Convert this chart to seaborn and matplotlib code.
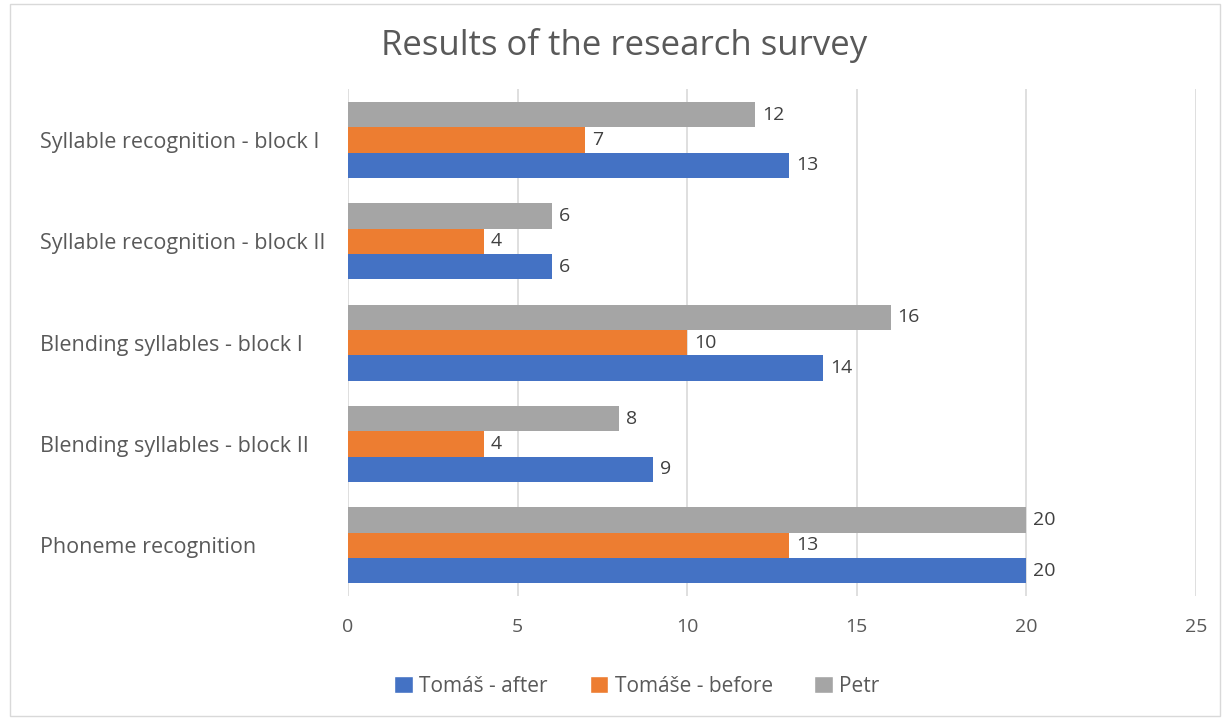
import pandas as pd
import matplotlib.pyplot as plt
import seaborn as sns
from matplotlib.patches import Patch, Rectangle

# chart data
categories = ["Syllable recognition - block I", "Syllable recognition - block II",
              "Blending syllables - block I", "Blending syllables - block II",
              "Phoneme recognition"]
tomas_after = [13, 6, 14, 9, 20]
tomase_before = [7, 4, 10, 4, 13]
petr = [12, 6, 16, 8, 20]
series_names = ["Tomáš - after", "Tomáše - before", "Petr"]
colors = {"Tomáš - after": "#4472C4", "Tomáše - before": "#ED7D31", "Petr": "#A5A5A5"}

df = pd.DataFrame({
    "category": categories * 3,
    "series": [series_names[0]] * 5 + [series_names[1]] * 5 + [series_names[2]] * 5,
    "value": tomas_after + tomase_before + petr,
})

sns.set_style("white")
plt.rcParams["font.family"] = ["Open Sans", "DejaVu Sans"]
text_color = "#595959"

fig = plt.figure(figsize=(12.24, 7.2), dpi=100)
ax = fig.add_axes([0.2843, 0.1722, 0.6928, 0.7035])

# Petr drawn on top within each group, then before, then after
sns.barplot(data=df, y="category", x="value", hue="series", order=categories,
            hue_order=["Petr", "Tomáše - before", "Tomáš - after"],
            palette=colors, orient="h", width=0.75, saturation=1,
            linewidth=0, legend=False, ax=ax)

for cont in ax.containers:
    ax.bar_label(cont, fmt="%d", padding=5, fontsize=14, color="#404040")

ax.set_xlim(0, 25)
ax.set_xticks([0, 5, 10, 15, 20, 25])
ax.set_ylim(4.5, -0.5)
ax.xaxis.grid(True, color="#D9D9D9", linewidth=1.2)
ax.set_axisbelow(True)
for s in ax.spines.values():
    s.set_visible(False)
ax.set_xlabel("")
ax.set_ylabel("")
ax.tick_params(axis="x", length=0, pad=16, labelsize=14, labelcolor=text_color)
ax.tick_params(axis="y", length=0, pad=221.8, labelsize=15.5, labelcolor=text_color)
for lbl in ax.get_yticklabels():
    lbl.set_ha("left")

fig.text(0.51, 0.937, "Results of the research survey", ha="center", va="center",
         fontsize=25, color=text_color)

handles = [Patch(facecolor=colors[n], label=n) for n in series_names]
fig.legend(handles=handles, loc="center", bbox_to_anchor=(637 / 1224, 1 - 686 / 720),
           ncol=3, frameon=False, fontsize=15, labelcolor=text_color,
           handlelength=0.9, handleheight=0.9, handletextpad=0.3, columnspacing=2.0)

# light chart-area border
fig.patches.append(Rectangle((10 / 1224, 0.005), 1210 / 1224, 0.99, transform=fig.transFigure,
                             fill=False, edgecolor="#D9D9D9", linewidth=1))

fig.savefig("out.png", dpi=100)
